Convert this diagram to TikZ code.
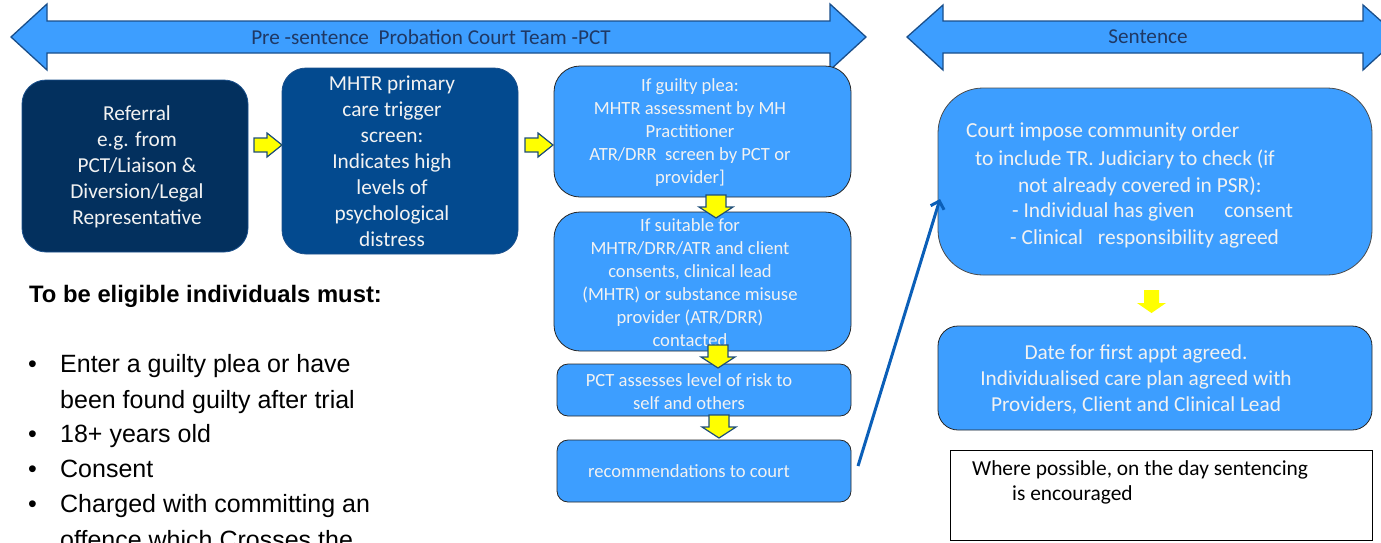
\documentclass[tikz,border=0pt]{standalone}
\usepackage{fontspec}
\setmainfont{Carlito}
\newfontfamily\arialfont{Liberation Sans}
\usetikzlibrary{arrows.meta}
\definecolor{navyone}{HTML}{03305E}
\definecolor{navytwo}{HTML}{034A8F}
\definecolor{skyfill}{HTML}{3D9EFF}
\definecolor{bannerline}{HTML}{1A4F8B}
\definecolor{bannertext}{HTML}{1F3864}
\definecolor{yfill}{HTML}{FFFF00}
\definecolor{yline}{HTML}{1F4E79}
\definecolor{connblue}{HTML}{0B5FB8}
\definecolor{boxtext}{HTML}{F2F2F2}
\tikzset{
  banner/.style={fill=skyfill, draw=bannerline, line width=1.3pt, line join=miter},
  darkbox/.style={draw=bannerline, line width=0.8pt, rounded corners=24pt, inner sep=0pt},
  skybox/.style={fill=skyfill, draw=black!85, line width=0.8pt, inner sep=0pt},
  wtext/.style={text=boxtext, align=center, inner sep=0pt},
  btext/.style={text=black, anchor=west, inner sep=0pt, font=\fontsize{21.4}{24}\selectfont},
  ltext/.style={anchor=base west, inner sep=0pt, font=\arialfont\fontsize{25}{28}\selectfont},
  yarrow/.style={fill=yfill, draw=yline, line width=1.2pt, line join=miter},
  darr/.pic={\draw[yarrow] (-10,0) -- (10,0) -- (10,12) -- (17,12) -- (0,23) -- (-17,12) -- (-10,12) -- cycle;},
  rarr/.pic={\draw[yarrow] (0,-7) -- (13,-7) -- (13,-12) -- (28,0) -- (13,12) -- (13,7) -- (0,7) -- cycle;},
}
\begin{document}
\begin{tikzpicture}[x=1pt,y=-1pt]
\useasboundingbox (0,0) rectangle (1381,542);
\clip (0,0) rectangle (1381,542);

% banners
\draw[banner] (11,37) -- (47,4) -- (47,21) -- (830,21) -- (830,4) -- (866,37) -- (830,70) -- (830,53) -- (47,53) -- (47,70) -- cycle;
\node[text=bannertext, inner sep=0pt, font=\fontsize{21.2}{24}\selectfont] (bt1) at (431,37) {Pre -sentence\ \ Probation Court Team -PCT};
\draw[banner] (907,37) -- (943,5) -- (943,21) -- (1363,21) -- (1363,5) -- (1399,37) -- (1363,70) -- (1363,53) -- (943,53) -- (943,70) -- cycle;
\node[text=bannertext, inner sep=0pt, font=\fontsize{21.2}{24}\selectfont] (bt2) at (1148,37) {Sentence};

% dark boxes
\node[darkbox, fill=navyone, minimum width=226pt, minimum height=172pt] (b1) at (135,166) {};
\node[wtext, font=\fontsize{21.3}{26}\selectfont] (t1) at (137,167) {Referral\\e.g. from\\PCT/Liaison \&\\Diversion/Legal\\Representative};
\node[darkbox, fill=navytwo, minimum width=236pt, minimum height=186pt] (b2) at (400,161) {};
\node[wtext, font=\fontsize{21.3}{26}\selectfont] (t2) at (392,161) {MHTR primary\\care trigger\\screen:\\Indicates high\\levels of\\psychological\\distress};

% light boxes, pre-sentence
\node[skybox, rounded corners=26pt, minimum width=297pt, minimum height=131pt] (b3) at (702.5,131.5) {};
\node[wtext, font=\fontsize{18.6}{23}\selectfont] (t3) at (690,133) {If guilty plea:\\MHTR assessment by MH\\Practitioner\\ATR/DRR\ \ screen by PCT or\\provider]};
\node[skybox, rounded corners=26pt, minimum width=297pt, minimum height=139pt] (b4) at (702.5,281.5) {};
\node[wtext, font=\fontsize{18.6}{23}\selectfont] (t4) at (690,282.5) {If suitable for\\MHTR/DRR/ATR and client\\consents, clinical lead\\(MHTR) or substance misuse\\provider (ATR/DRR)\\contacted};
\node[skybox, rounded corners=11pt, minimum width=294pt, minimum height=52pt] (b5) at (704,390) {};
\node[wtext, font=\fontsize{18.6}{23}\selectfont] (t5) at (689,391.5) {PCT assesses level of risk to\\self and others};
\node[skybox, rounded corners=11pt, minimum width=294pt, minimum height=62pt] (b6) at (704,471) {};
\node[wtext, font=\fontsize{18.6}{23}\selectfont] (t6) at (689,471) {recommendations to court};

% yellow arrows
\pic at (254,145) {rarr};
\pic at (525,145) {rarr};
\pic at (716,195) {darr};
\pic at (718,345) {darr};
\pic at (719,415) {darr};

% sentence side
\node[skybox, draw=black!70, rounded corners=45pt, minimum width=434pt, minimum height=187pt] (b7) at (1155,181.5) {};
\node[wtext, anchor=west, font=\fontsize{21.4}{24}\selectfont] (t7a) at (966,132) {Court impose community order};
\node[wtext, anchor=west, font=\fontsize{21.4}{24}\selectfont] (t7b) at (975,159) {to include TR. Judiciary to check (if};
\node[wtext, anchor=west, font=\fontsize{21.4}{24}\selectfont] (t7c) at (1018,186) {not already covered in PSR):};
\node[wtext, anchor=west, font=\fontsize{21.4}{24}\selectfont] (t7d) at (1012,212) {- Individual has given\hspace{30pt}consent};
\node[wtext, anchor=west, font=\fontsize{21.4}{24}\selectfont] (t7e) at (1010,239) {- Clinical\hspace{15pt}responsibility agreed};

\path[fill=yfill] (1144,290) -- (1159,290) -- (1159,303) -- (1166,303) -- (1151.5,313) -- (1137,303) -- (1144,303) -- cycle;

\node[skybox, rounded corners=20pt, minimum width=434pt, minimum height=104pt] (b8) at (1155,378) {};
\node[wtext, font=\fontsize{21.3}{26}\selectfont] (t8) at (1136,379) {Date for first appt agreed.\\Individualised care plan agreed with\\Providers, Client and Clinical Lead};

\node[draw=black, line width=0.9pt, fill=white, inner sep=0pt, minimum width=422pt, minimum height=90pt] (b9) at (1161,495) {};
\node[btext] (t9a) at (972,470) {Where possible, on the day sentencing};
\node[btext] (t9b) at (1012,495) {is encouraged};

% connector
\coordinate (cs) at (858,466);
\coordinate (ce) at (940,199);
\draw[connblue, line width=3pt, -{Straight Barb[length=7pt,width=14pt]}] (cs) -- (ce);

% eligibility text
\node[ltext, font=\arialfont\bfseries\fontsize{23.8}{26}\selectfont] (elig) at (29,302) {To be eligible individuals must:};
\node[ltext] (l1) at (28,372) {\makebox[32pt][l]{•}Enter a guilty plea or have};
\node[ltext] (l2) at (60,408) {been found guilty after trial};
\node[ltext] (l3) at (28,442) {\makebox[32pt][l]{•}18+ years old};
\node[ltext] (l4) at (28,477) {\makebox[32pt][l]{•}Consent};
\node[ltext] (l5) at (28,512) {\makebox[32pt][l]{•}Charged with committing an};
\node[ltext] (l6) at (60,548) {offence which Crosses the};
\end{tikzpicture}
\end{document}
